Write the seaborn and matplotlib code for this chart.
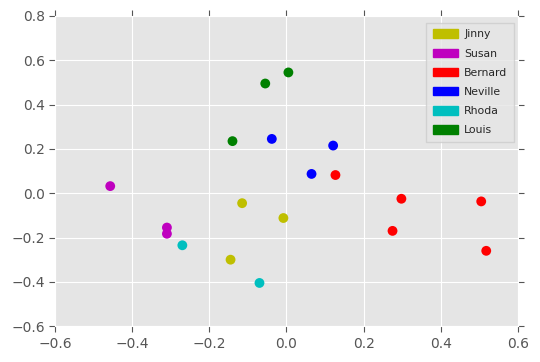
import pandas as pd
import matplotlib.pyplot as plt
import matplotlib.patches as mpatches
import seaborn as sns

# --- data ---
names = ["Jinny", "Susan", "Bernard", "Neville", "Rhoda", "Louis"]
colors = ["y", "m", "r", "b", "c", "g"]

jinny_x = [-0.115, -0.008, -0.145]
jinny_y = [-0.045, -0.112, -0.300]
susan_x = [-0.457, -0.31, -0.31]
susan_y = [0.032, -0.155, -0.183]
bernard_x = [0.127, 0.298, 0.275, 0.505, 0.518]
bernard_y = [0.082, -0.025, -0.170, -0.037, -0.260]
neville_x = [-0.038, 0.065, 0.121]
neville_y = [0.245, 0.087, 0.215]
rhoda_x = [-0.27, -0.07]
rhoda_y = [-0.235, -0.405]
louis_x = [-0.14, -0.055, 0.005]
louis_y = [0.235, 0.495, 0.545]

xs = [jinny_x, susan_x, bernard_x, neville_x, rhoda_x, louis_x]
ys = [jinny_y, susan_y, bernard_y, neville_y, rhoda_y, louis_y]

rows = []
for n, xv, yv in zip(names, xs, ys):
    for a, b in zip(xv, yv):
        rows.append({"x": a, "y": b, "name": n})
df = pd.DataFrame(rows)

sns.set_style("darkgrid", {
    "axes.facecolor": "#E5E5E5",
    "grid.color": "white",
    "axes.edgecolor": "white",
    "xtick.bottom": True, "xtick.top": True,
    "ytick.left": True, "ytick.right": True,
})
plt.rcParams["font.family"] = ["DejaVu Sans"]
plt.rcParams["xtick.direction"] = "out"
plt.rcParams["ytick.direction"] = "out"
plt.rcParams["xtick.color"] = "#555555"
plt.rcParams["ytick.color"] = "#555555"
plt.rcParams["xtick.major.size"] = 4
plt.rcParams["ytick.major.size"] = 4

fig = plt.figure(figsize=(5.4, 3.62), dpi=100)
ax = fig.add_axes([0.102, 0.099, 0.857, 0.857])

palette = dict(zip(names, colors))
sns.scatterplot(data=df, x="x", y="y", hue="name", palette=palette,
                s=50, linewidth=0, legend=False, ax=ax)

ax.set_xlim(-0.6, 0.6)
ax.set_ylim(-0.6, 0.8)
ax.set_xticks([-0.6, -0.4, -0.2, 0.0, 0.2, 0.4, 0.6])
ax.set_yticks([-0.6, -0.4, -0.2, 0.0, 0.2, 0.4, 0.6, 0.8])
ax.tick_params(labelsize=10, labelcolor="#555555", width=0.8)
ax.set_xlabel("")
ax.set_ylabel("")

handles = [mpatches.Patch(color=c, label=n) for n, c in zip(names, colors)]
leg = ax.legend(handles=handles, loc="upper right", bbox_to_anchor=(1, 0.99),
                fontsize=7.8, handlelength=2.3, handleheight=0.8,
                frameon=True, fancybox=False, borderpad=0.6,
                labelspacing=0.85, handletextpad=0.6, borderaxespad=0.35)
leg.get_frame().set_facecolor("#E5E5E5")
leg.get_frame().set_edgecolor("#CCCCCC")

fig.savefig("out.png", dpi=100)
